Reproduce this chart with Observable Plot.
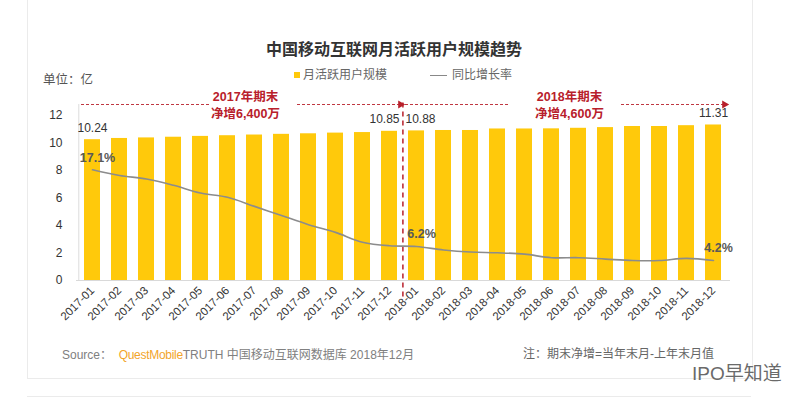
<!DOCTYPE html>
<html><head><meta charset="utf-8">
<script src="https://cdn.jsdelivr.net/npm/d3@7"></script>
<script src="https://cdn.jsdelivr.net/npm/@observablehq/plot@0.6"></script>
<style>
html,body{margin:0;padding:0;background:#fff;}
#wrap{position:relative;width:808px;height:397px;overflow:hidden;font-family:"Liberation Sans","Noto Sans CJK SC",sans-serif;}
.card{position:absolute;left:27px;top:-2px;width:724px;height:380px;border:1px solid #ebebeb;border-top:none;}
.card2{position:absolute;left:27px;top:396px;width:724px;height:10px;border-top:1px solid #ebebeb;}
#chart{position:absolute;left:0;top:0;}
.t{position:absolute;white-space:nowrap;}
</style></head><body>
<div id="wrap">
  <div class="card"></div><div class="card2"></div>
  <div id="chart"></div>
  <div class="t" style="left:394px;top:40px;transform:translateX(-50%);font-size:16px;line-height:20px;font-weight:bold;color:#333;">中国移动互联网月活跃用户规模趋势</div>
  <div class="t" style="left:294px;top:72px;width:6px;height:6px;background:#FFC90B;"></div>
  <div class="t" style="left:303px;top:67px;font-size:12px;line-height:16px;color:#666;">月活跃用户规模</div>
  <div class="t" style="left:430px;top:75px;width:17px;height:1px;background:#888;"></div>
  <div class="t" style="left:452px;top:67px;font-size:12px;line-height:16px;color:#666;">同比增长率</div>
  <div class="t" style="left:43px;top:72px;font-size:12.5px;line-height:16px;color:#555;">单位：亿</div>
  <div class="t" style="left:62px;top:347px;font-size:12px;line-height:16px;color:#808080;">Source：&nbsp;&nbsp;<span style="color:#F2A52A;letter-spacing:-0.3px;">QuestMobile</span>TRUTH 中国移动互联网数据库 2018年12月</div>
  <div class="t" style="left:523px;top:346px;font-size:12px;line-height:16px;color:#666;">注：期末净增=当年末月-上年末月值</div>
  <div class="t" style="left:692px;top:364px;font-size:19px;line-height:20px;color:#6a6a6a;">IPO早知道</div>
</div>
<script>
const months = ["2017-01","2017-02","2017-03","2017-04","2017-05","2017-06","2017-07","2017-08","2017-09","2017-10","2017-11","2017-12",
                "2018-01","2018-02","2018-03","2018-04","2018-05","2018-06","2018-07","2018-08","2018-09","2018-10","2018-11","2018-12"];
const mau = [10.24,10.33,10.37,10.42,10.48,10.53,10.58,10.63,10.67,10.72,10.76,10.85,
             10.88,10.91,10.91,11.02,11.02,11.03,11.07,11.12,11.20,11.20,11.26,11.31];
const growth = [17.1,16.3,15.8,14.9,13.8,13.2,11.9,10.6,9.3,8.2,6.8,6.3,
                6.2,5.7,5.4,5.3,5.1,4.6,4.6,4.4,4.2,4.2,4.5,4.2];
const yTicks = [0,2,4,6,8,10,12];
const valueLabelMonths = ["2017-01","2018-12"];
const valueLabelLeft = ["2017-12"];
const valueLabelRight = ["2018-01"];
const rateLabelMonths = ["2017-01","2018-01","2018-12"];
const periods = [
  {mid:"2017-07", end:"2017-12", title:"2017年期末", net:"净增6,400万"},
  {mid:"2018-07", end:"2018-12", title:"2018年期末", net:"净增4,600万"}
];
const periodSegments = [
  {from:"2017-01", to:"2017-05"}, {from:"2017-09", to:"2017-12"},
  {from:"2018-01", to:"2018-04"}, {from:"2018-09", to:"2018-12"}
];
const yearBreak = ["2018-01"];

// hidden secondary axis for growth rate (%)
const rateDomain = [1.354, 24.83];
const toY = g => (g - rateDomain[0]) * 12 / (rateDomain[1] - rateDomain[0]);

const data = months.map((m, i) => ({month: m, mau: mau[i], growth: growth[i]}));
const red = "#B8202B";
const annY = 12.8;

const chart = Plot.plot({
  width: 808, height: 397,
  marginLeft: 76, marginRight: 78, marginTop: 115, marginBottom: 117,
  style: {fontFamily: '"Liberation Sans","Noto Sans CJK SC",sans-serif', fontSize: "12px", color: "#333", background: "transparent"},
  x: {type: "band", domain: months, paddingInner: 0.39, paddingOuter: 0.2, label: null},
  y: {domain: [0, 12], label: null},
  marks: [
    Plot.ruleX(["2017-01"], {dx: -13.7, y1: 0, y2: annY, stroke: "#dcdcdc"}),
    Plot.ruleY([0], {stroke: "#d9d9d9"}),
    Plot.axisY({ticks: yTicks, tickSize: 0, tickPadding: 14, fontSize: 12, label: null}),
    Plot.axisX({tickRotate: -45, tickSize: 0, tickPadding: 8, fontSize: 11.5, label: null}),
    Plot.ruleY(periodSegments, {y: annY, x1: "from", x2: "to", insetLeft: -3, insetRight: -3, stroke: red, strokeWidth: 0.9, strokeDasharray: "3,2"}),
    Plot.dot(periods, {x: "end", y: annY, symbol: "triangle", rotate: 90, r: 3, fill: red, stroke: "none", dx: 11}),
    Plot.text(periods, {x: "mid", y: annY, text: d => d.title + "\n" + d.net, fill: red, fontWeight: "bold", fontSize: 12.5, lineHeight: 1.35, dx: -9}),
    Plot.barY(data, {x: "month", y: "mau", fill: "#FFC90B"}),
    Plot.ruleX(yearBreak, {dx: -13.6, y1: -1.2, y2: 13.1, stroke: red, strokeWidth: 1.5, strokeDasharray: "5,4"}),
    Plot.text(data.filter(d => valueLabelMonths.includes(d.month)), {x: "month", y: "mau", text: d => d.mau.toFixed(2), dy: -12, fontSize: 12, fill: "#333"}),
    Plot.text(data.filter(d => valueLabelLeft.includes(d.month)), {x: "month", y: "mau", text: d => d.mau.toFixed(2), dy: -12, dx: -5, fontSize: 12, fill: "#333"}),
    Plot.text(data.filter(d => valueLabelRight.includes(d.month)), {x: "month", y: "mau", text: d => d.mau.toFixed(2), dy: -12, dx: 4, fontSize: 12, fill: "#333"}),
    Plot.line(data, {x: "month", y: d => toY(d.growth), curve: "catmull-rom", stroke: "#8c8c8c", strokeWidth: 1.6}),
    Plot.text(data.filter(d => rateLabelMonths.includes(d.month)), {x: "month", y: d => toY(d.growth), text: d => d.growth.toFixed(1) + "%", dy: -12, dx: 5, fontWeight: "bold", fontSize: 12.5, fill: "#595959"})
  ]
});
document.getElementById("chart").appendChild(chart);
</script>
</body></html>
